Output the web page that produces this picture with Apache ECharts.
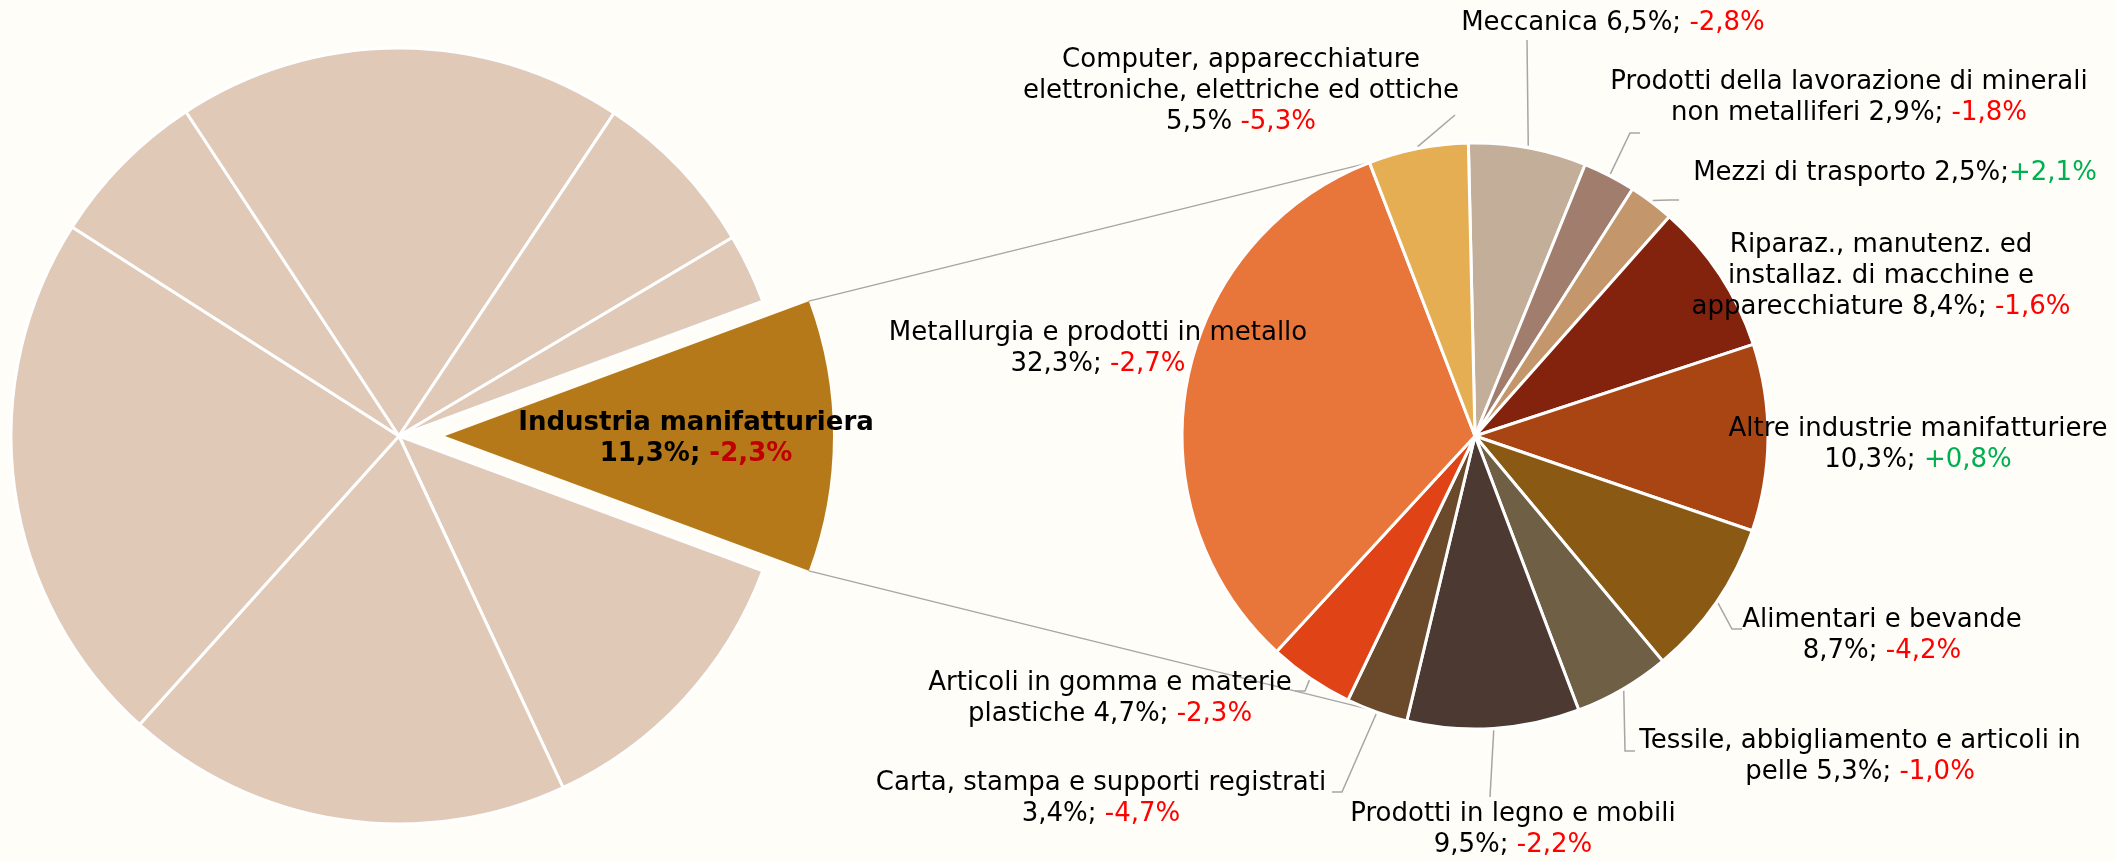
<!DOCTYPE html>
<html>
<head>
<meta charset="utf-8">
<title>Industria manifatturiera</title>
<script src="https://cdn.jsdelivr.net/npm/echarts@6/dist/echarts.min.js"></script>
<style>
    html, body { margin: 0; padding: 0; background: #FFFDF8; }
    #chart { width: 2116px; height: 861px; }
</style>
</head>
<body>
<div id="chart"></div>
<script>
// torta principale: quote dei settori (solo la manifattura ha etichetta)
const mainNames = ['Industria manifatturiera', 'Settore 2', 'Settore 3', 'Settore 4',
    'Settore 5', 'Settore 6', 'Settore 7', 'Settore 8'];
const mainShares = [11.3, 12.4, 18.6, 22.4, 6.7, 18.6, 7.1, 2.9];
const mainChange = -2.3;

// torta di dettaglio: comparti della manifattura
const subNames = [
    'Meccanica',
    'Prodotti della lavorazione di minerali\nnon metalliferi',
    'Mezzi di trasporto',
    'Riparaz., manutenz. ed\ninstallaz. di macchine e\napparecchiature',
    'Altre industrie manifatturiere\n',
    'Alimentari e bevande\n',
    'Tessile, abbigliamento e articoli in\npelle',
    'Prodotti in legno e mobili\n',
    'Carta, stampa e supporti registrati\n',
    'Articoli in gomma e materie\nplastiche',
    'Metallurgia e prodotti in metallo\n',
    'Computer, apparecchiature\nelettroniche, elettriche ed ottiche\n'
];
const subShares = [6.5, 2.9, 2.5, 8.4, 10.3, 8.7, 5.3, 9.5, 3.4, 4.7, 32.3, 5.5];
const subChanges = [-2.8, -1.8, 2.1, -1.6, 0.8, -4.2, -1.0, -2.2, -4.7, -2.3, -2.7, -5.3];
const subSeps = ['; ', '; ', ';', '; ', '; ', '; ', '; ', '; ', '; ', '; ', '; ', ' '];

// colori
const mainColors = ['#B5791A', '#E0C9B7', '#E0C9B7', '#E0C9B7', '#E0C9B7', '#E0C9B7', '#E0C9B7', '#E0C9B7'];
const subColors = ['#C3AF99', '#A17D6E', '#C3976B', '#83230D', '#A94513', '#8A5A15',
    '#6F5F44', '#4B3932', '#6B4A2B', '#DF4316', '#E8763A', '#E6AE53'];

// posizioni etichette (centro del testo) e spezzate dei richiami
const subLabelPos = [[1613, 23], [1849, 98], [1895, 173], [1881, 276], [1918, 445], [1882, 636],
    [1860, 757], [1513, 830], [1101, 799], [1110, 699], [1098, 349], [1241, 91]];
const subLeader = [[[1527, 40]], [[1630, 133], [1640, 133]], [[1670, 200], [1679, 200]], null, null,
    [[1732, 629], [1742, 629]], [[1625, 751], [1635, 751]], [[1490, 797]],
    [[1342, 792], [1332, 792]], [[1305, 691], [1295, 691]], null, [[1455, 115]]];
const mainLabelPos = [696, 439];

const mainC = [399, 436], mainR = 388, explode = 46;
const subC = [1475, 436], subR = 293, subStart = 91.3;

const pct = (v) => v.toFixed(1).replace('.', ',') + '%';
const chg = (v) => (v > 0 ? '+' : '') + pct(v);

const chartDom = document.getElementById('chart');
const myChart = echarts.init(chartDom);

// angolo medio di ogni spicchio del dettaglio (senso orario)
const subMid = [];
let acc = subStart;
subShares.forEach((s) => {
    subMid.push(acc - s * 1.8);
    acc -= s * 3.6;
});

const subLabel = (i) => {
    const name = subNames[i];
    const txt = name + (name.endsWith('\n') ? '' : ' ') + pct(subShares[i]) + subSeps[i];
    const lines = txt.split('\n');
    const key = subChanges[i] > 0 ? 'pos' : 'neg';
    return lines.map((l, k) => '{t|' + l + '}' + (k === lines.length - 1 ? '{' + key + '|' + chg(subChanges[i]) + '}' : '')).join('\n');
};

// linee di raccordo fra le due torte
const half = mainShares[0] * 1.8 * Math.PI / 180;
const apexX = mainC[0] + explode;
const edge = (subStart + subShares[subShares.length - 1] * 3.6) * Math.PI / 180;
const upper = [
    [apexX + mainR * Math.cos(half), mainC[1] - mainR * Math.sin(half)],
    [subC[0] + subR * Math.cos(edge), subC[1] - subR * Math.sin(edge)]
];
const lower = [
    [apexX + mainR * Math.cos(half), mainC[1] + mainR * Math.sin(half)],
    [subC[0] + subR * Math.cos(edge), subC[1] + subR * Math.sin(edge)]
];

const textBase = { fontFamily: 'DejaVu Sans', fontSize: 26, lineHeight: 31, align: 'center' };
const hidden = { color: 'rgba(0,0,0,0)', borderWidth: 0 };

const option = {
    backgroundColor: '#FFFDF8',
    animation: false,
    graphic: [
        { type: 'line', z: 0, shape: { x1: upper[0][0], y1: upper[0][1], x2: upper[1][0], y2: upper[1][1] },
          style: { stroke: '#A6A6A6', lineWidth: 1.5 } },
        { type: 'line', z: 0, shape: { x1: lower[0][0], y1: lower[0][1], x2: lower[1][0], y2: lower[1][1] },
          style: { stroke: '#A6A6A6', lineWidth: 1.5 } }
    ],
    series: [
        // settori non dettagliati
        {
            name: 'Settori',
            type: 'pie',
            center: mainC,
            radius: [0, mainR],
            startAngle: mainShares[0] * 1.8,
            clockwise: true,
            silent: true,
            emphasis: { disabled: true },
            itemStyle: { borderColor: '#FFFFFF', borderWidth: 3 },
            label: { show: false },
            labelLine: { show: false },
            data: mainShares.map((v, i) => ({
                name: mainNames[i],
                value: v,
                itemStyle: i === 0 ? hidden : { color: mainColors[i] }
            }))
        },
        // spicchio esploso della manifattura
        {
            name: 'Manifattura (totale)',
            type: 'pie',
            center: [mainC[0] + explode, mainC[1]],
            radius: [0, mainR],
            startAngle: mainShares[0] * 1.8,
            clockwise: true,
            silent: true,
            emphasis: { disabled: true },
            labelLine: { show: false },
            labelLayout: (params) => params.dataIndex === 0
                ? { x: mainLabelPos[0], y: mainLabelPos[1], align: 'center', verticalAlign: 'middle' }
                : {},
            data: mainShares.map((v, i) => ({
                name: mainNames[i],
                value: v,
                itemStyle: i === 0 ? { color: mainColors[0], borderWidth: 0 } : hidden,
                label: i === 0 ? {
                    show: true,
                    position: 'inside',
                    formatter: '{b|' + mainNames[0] + '}\n{b|' + pct(v) + '; }{r|' + chg(mainChange) + '}',
                    rich: {
                        b: Object.assign({}, textBase, { color: '#000000', fontWeight: 'bold' }),
                        r: Object.assign({}, textBase, { color: '#C00000', fontWeight: 'bold' })
                    }
                } : { show: false }
            }))
        },
        {
            name: 'Manifattura',
            type: 'pie',
            center: subC,
            radius: [0, subR],
            startAngle: subStart,
            clockwise: true,
            avoidLabelOverlap: false,
            silent: true,
            emphasis: { disabled: true },
            itemStyle: { borderColor: '#FFFFFF', borderWidth: 3 },
            label: {
                show: true,
                position: 'outside',
                rich: {
                    t: Object.assign({}, textBase, { color: '#000000' }),
                    neg: Object.assign({}, textBase, { color: '#FF0000' }),
                    pos: Object.assign({}, textBase, { color: '#00B050' })
                }
            },
            labelLayout: (params) => {
                const i = params.dataIndex;
                const out = { x: subLabelPos[i][0], y: subLabelPos[i][1], align: 'center', verticalAlign: 'middle' };
                if (subLeader[i]) {
                    const a = subMid[i] * Math.PI / 180;
                    const start = [subC[0] + (subR + 2) * Math.cos(a), subC[1] - (subR + 2) * Math.sin(a)];
                    out.labelLinePoints = [start].concat(subLeader[i]);
                }
                return out;
            },
            data: subShares.map((v, i) => ({
                name: subNames[i].replace(/\n/g, ' ').trim(),
                value: v,
                itemStyle: { color: subColors[i] },
                label: { formatter: subLabel(i) },
                labelLine: { show: !!subLeader[i], lineStyle: { color: '#A6A6A6', width: 1.5 } }
            }))
        }
    ]
};

myChart.setOption(option);
</script>
</body>
</html>
